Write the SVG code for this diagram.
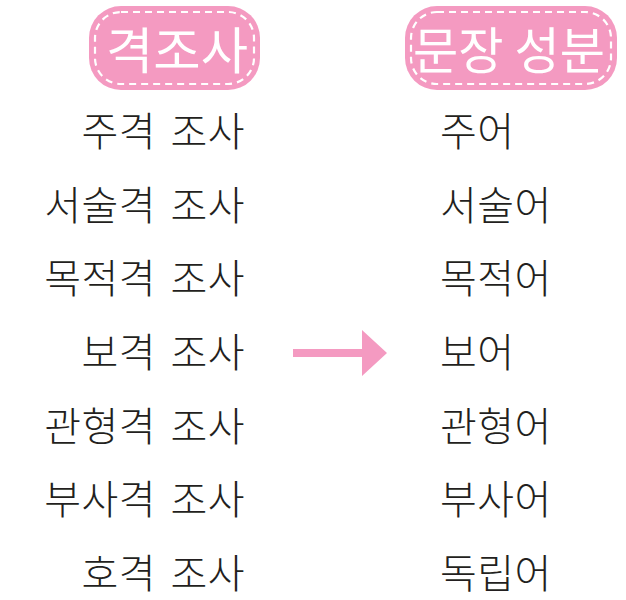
<svg xmlns="http://www.w3.org/2000/svg" width="626" height="600" viewBox="0 0 626 600">
<style>
.badge{fill:#f49ac1;}
.dash{fill:none;stroke:#fff;stroke-width:2.2;stroke-dasharray:7 5;}
.bt{font-family:"Noto Sans CJK KR","Noto Sans",sans-serif;font-size:50px;font-weight:400;fill:#fff;}
.t{font-family:"Noto Sans CJK KR","Noto Sans",sans-serif;font-size:40px;font-weight:300;fill:#231f20;word-spacing:5px;letter-spacing:0.5px;}
.l{text-anchor:end;}
</style>
<rect width="626" height="600" fill="#fff"/>
<g id="badge-left">
<rect class="badge" x="89" y="6" width="171" height="84" rx="32"/>
<rect class="dash" x="95" y="12" width="159" height="72" rx="26"/>
<text class="bt" x="106" y="69" textLength="142" lengthAdjust="spacingAndGlyphs">격조사</text>
</g>
<g id="badge-right">
<rect class="badge" x="405" y="6" width="212" height="84" rx="32"/>
<rect class="dash" x="411" y="12" width="200" height="72" rx="26"/>
<text class="bt" x="413" y="69" textLength="192" lengthAdjust="spacingAndGlyphs">문장 성분</text>
</g>
<g id="left-column">
<text class="t l" x="245" y="146">주격 조사</text>
<text class="t l" x="245" y="220">서술격 조사</text>
<text class="t l" x="245" y="293">목적격 조사</text>
<text class="t l" x="245" y="367">보격 조사</text>
<text class="t l" x="245" y="441">관형격 조사</text>
<text class="t l" x="245" y="514">부사격 조사</text>
<text class="t l" x="245" y="588">호격 조사</text>
</g>
<g id="right-column">
<text class="t" x="440" y="146">주어</text>
<text class="t" x="440" y="220">서술어</text>
<text class="t" x="440" y="293">목적어</text>
<text class="t" x="440" y="367">보어</text>
<text class="t" x="440" y="441">관형어</text>
<text class="t" x="440" y="514">부사어</text>
<text class="t" x="440" y="588">독립어</text>
</g>
<g id="connectors">
<polygon fill="#f49ac1" points="293,349 362,349 362,330 387,353 362,376 362,357 293,357"/>
</g>
</svg>
